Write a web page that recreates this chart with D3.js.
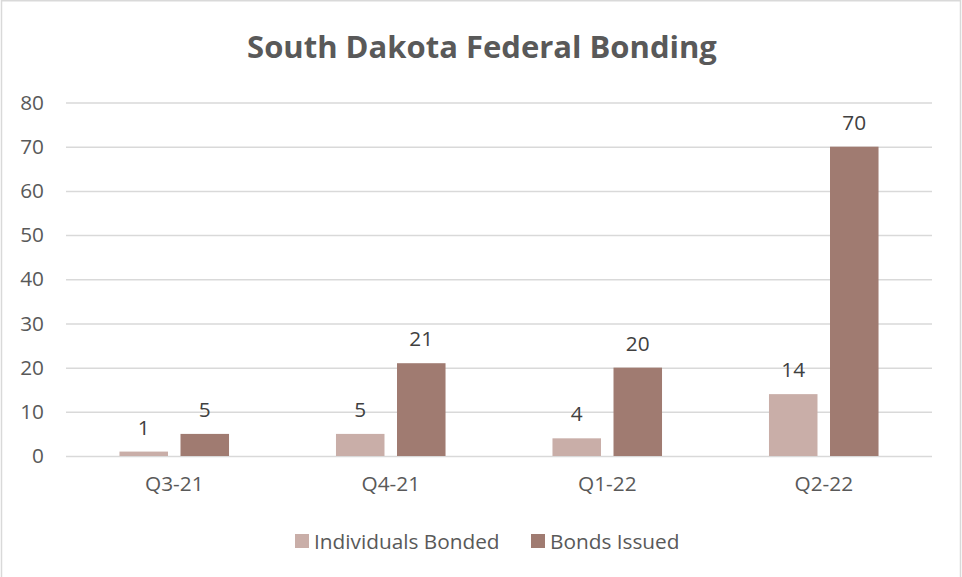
<!DOCTYPE html>
<html>
<head>
<meta charset="utf-8">
<script src="https://cdn.jsdelivr.net/npm/d3@7"></script>
<style>
  html, body { margin: 0; padding: 0; background: #fff; }
  svg { display: block; }
  text { font-family: "Open Sans", sans-serif; }
</style>
</head>
<body>
<svg id="chart" width="962" height="577"></svg>
<script>
const title = "South Dakota Federal Bonding";
const categories = ["Q3-21", "Q4-21", "Q1-22", "Q2-22"];
const seriesNames = ["Individuals Bonded", "Bonds Issued"];
const individualsBonded = [1, 5, 4, 14];
const bondsIssued = [5, 21, 20, 70];
const yTicks = [0, 10, 20, 30, 40, 50, 60, 70, 80];
const colors = ["#C9AEA8", "#A07B71"];

const svg = d3.select("#chart");
const fs = 20.8;

svg.append("rect").attr("x", 1.5).attr("y", 0.75).attr("width", 959).attr("height", 590)
  .attr("fill", "#fff").attr("stroke", "#D9D9D9").attr("stroke-width", 1.5);

const plot = { left: 66, right: 932, top: 102.5, bottom: 456 };

const y = d3.scaleLinear().domain([0, 80]).range([plot.bottom, plot.top]);
const x0 = d3.scaleBand().domain(categories).range([plot.left, plot.right])
  .paddingInner(0.494).paddingOuter(0.247);
const x1 = d3.scaleBand().domain(seriesNames).range([0, x0.bandwidth()]).paddingInner(0.205);

// title
svg.append("text").attr("x", (plot.left + plot.right) / 2 - 17).attr("y", 58)
  .attr("text-anchor", "middle").attr("font-size", 31).attr("font-weight", 700)
  .attr("fill", "#595959").text(title);

// gridlines + y labels
const yAxis = d3.axisLeft(y).tickValues(yTicks).tickSize(-(plot.right - plot.left)).tickPadding(22);
const gy = svg.append("g").attr("transform", `translate(${plot.left},0)`).call(yAxis);
gy.select(".domain").remove();
gy.selectAll(".tick line").attr("stroke", "#D9D9D9").attr("stroke-width", 1.5);
gy.selectAll(".tick text").attr("font-size", fs).attr("fill", "#595959")
  .attr("font-family", "Open Sans, sans-serif");

// x axis labels
const xAxis = d3.axisBottom(x0).tickSize(0).tickPadding(20);
const gx = svg.append("g").attr("transform", `translate(0,${plot.bottom})`).call(xAxis);
gx.select(".domain").remove();
gx.selectAll(".tick text").attr("font-size", fs).attr("fill", "#595959")
  .attr("font-family", "Open Sans, sans-serif");

const rows = categories.map((c, i) => ({ cat: c, vals: [individualsBonded[i], bondsIssued[i]] }));

const groups = svg.append("g").selectAll("g").data(rows).join("g")
  .attr("transform", d => `translate(${x0(d.cat)},0)`);

groups.selectAll("rect").data(d => d.vals.map((v, j) => ({ key: seriesNames[j], v, j })))
  .join("rect")
  .attr("x", d => x1(d.key)).attr("width", x1.bandwidth())
  .attr("y", d => y(d.v)).attr("height", d => y(0) - y(d.v))
  .attr("fill", d => colors[d.j]);

groups.selectAll("text.lbl").data(d => d.vals.map((v, j) => ({ key: seriesNames[j], v, j })))
  .join("text").attr("class", "lbl")
  .attr("x", d => x1(d.key) + x1.bandwidth() / 2)
  .attr("y", d => y(d.v) - 17)
  .attr("text-anchor", "middle").attr("font-size", fs).attr("fill", "#404040")
  .text(d => d.v);

// legend
const legend = svg.append("g");
const legX = [295, 531];
seriesNames.forEach((name, i) => {
  legend.append("rect").attr("x", legX[i]).attr("y", 534).attr("width", 14).attr("height", 14)
    .attr("fill", colors[i]);
  legend.append("text").attr("x", legX[i] + 19).attr("y", 548.5)
    .attr("font-size", fs).attr("fill", "#595959").text(name);
});
</script>
</body>
</html>
